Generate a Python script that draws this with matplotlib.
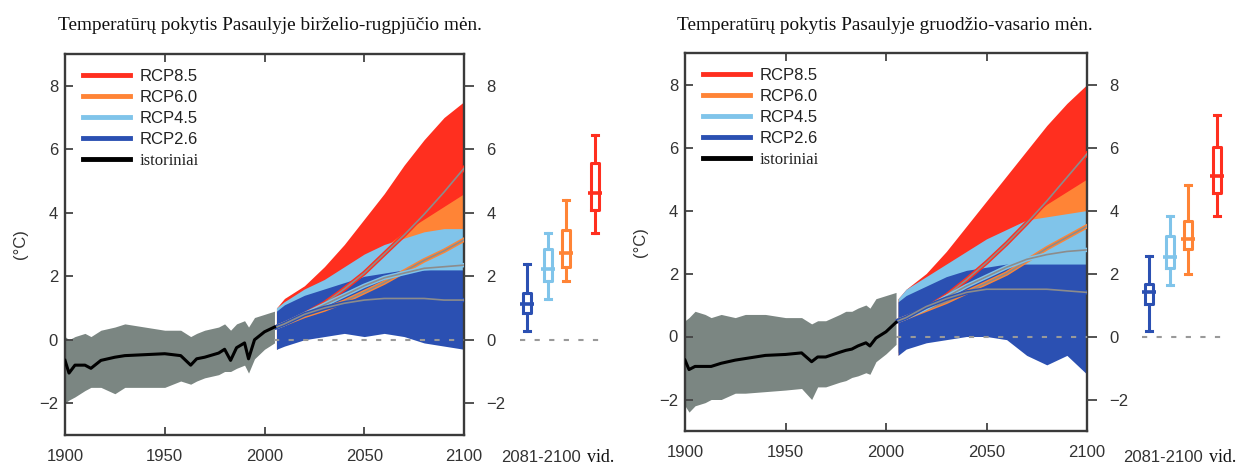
import numpy as np
import matplotlib.pyplot as plt
from matplotlib.lines import Line2D

# ---- duomenys (nuskaityti nuo paveikslo) ----
hist_years = [1900, 1902, 1905, 1910, 1913, 1918, 1925, 1930, 1940, 1950, 1958, 1963,
              1966, 1970, 1977, 1980, 1983, 1986, 1990, 1992, 1995, 2000, 2005]
jja_hist_mid = [-0.65, -1.05, -0.8, -0.8, -0.9, -0.65, -0.55, -0.5, -0.47, -0.44, -0.5, -0.8,
                -0.6, -0.55, -0.42, -0.3, -0.65, -0.25, -0.1, -0.6, 0.0, 0.25, 0.4]
jja_hist_lo = [-2.0, -1.9, -1.8, -1.6, -1.5, -1.5, -1.7, -1.5, -1.5, -1.5, -1.3, -1.4,
               -1.3, -1.2, -1.1, -1.0, -1.0, -0.9, -0.8, -1.05, -0.6, -0.3, -0.1]
jja_hist_hi = [0.1, 0.0, 0.1, 0.2, 0.1, 0.3, 0.4, 0.5, 0.4, 0.3, 0.3, 0.1,
               0.2, 0.3, 0.4, 0.5, 0.3, 0.5, 0.6, 0.4, 0.7, 0.8, 0.9]
djf_hist_mid = [-0.75, -1.05, -0.95, -0.95, -0.95, -0.85, -0.75, -0.7, -0.6, -0.57, -0.52, -0.8,
                -0.65, -0.65, -0.5, -0.44, -0.4, -0.3, -0.2, -0.3, -0.05, 0.15, 0.45]
djf_hist_lo = [-2.2, -2.4, -2.2, -2.1, -2.0, -2.0, -1.8, -1.8, -1.75, -1.7, -1.65, -2.0,
               -1.6, -1.6, -1.45, -1.4, -1.3, -1.25, -1.15, -1.2, -0.8, -0.55, -0.25]
djf_hist_hi = [0.5, 0.6, 0.8, 0.7, 0.6, 0.7, 0.6, 0.7, 0.7, 0.6, 0.6, 0.4,
               0.5, 0.5, 0.7, 0.8, 0.8, 0.9, 1.0, 0.9, 1.2, 1.3, 1.4]

proj_years = [2006, 2010, 2020, 2030, 2040, 2050, 2060, 2070, 2080, 2090, 2100]

jja_rcp85_mid = [0.4, 0.5, 0.8, 1.15, 1.6, 2.1, 2.7, 3.3, 3.95, 4.65, 5.4]
jja_rcp85_lo = [-0.3, -0.1, 0.2, 0.5, 0.8, 1.2, 1.6, 2.1, 2.6, 3.1, 3.5]
jja_rcp85_hi = [1.0, 1.3, 1.7, 2.3, 3.0, 3.8, 4.6, 5.5, 6.3, 7.0, 7.5]
jja_rcp60_mid = [0.4, 0.5, 0.75, 0.95, 1.2, 1.5, 1.8, 2.15, 2.5, 2.8, 3.15]
jja_rcp60_lo = [-0.3, -0.1, 0.1, 0.3, 0.5, 0.7, 1.0, 1.3, 1.6, 1.9, 2.0]
jja_rcp60_hi = [1.0, 1.2, 1.5, 1.8, 2.1, 2.5, 2.9, 3.4, 3.8, 4.2, 4.6]
jja_rcp45_mid = [0.4, 0.5, 0.8, 1.1, 1.4, 1.7, 1.95, 2.1, 2.25, 2.3, 2.35]
jja_rcp45_lo = [-0.3, -0.1, 0.2, 0.4, 0.6, 0.9, 1.1, 1.2, 1.3, 1.35, 1.4]
jja_rcp45_hi = [1.0, 1.2, 1.6, 1.9, 2.3, 2.7, 3.0, 3.2, 3.4, 3.5, 3.5]
jja_rcp26_mid = [0.4, 0.5, 0.8, 1.0, 1.15, 1.25, 1.3, 1.3, 1.3, 1.25, 1.25]
jja_rcp26_lo = [-0.3, -0.2, 0.0, 0.1, 0.2, 0.1, 0.2, 0.1, -0.1, -0.2, -0.3]
jja_rcp26_hi = [0.9, 1.1, 1.4, 1.6, 1.8, 2.0, 2.1, 2.2, 2.2, 2.2, 2.2]

djf_rcp85_mid = [0.5, 0.6, 0.9, 1.3, 1.8, 2.35, 2.95, 3.6, 4.3, 5.05, 5.8]
djf_rcp85_lo = [-0.5, -0.3, 0.0, 0.3, 0.7, 1.1, 1.6, 2.1, 2.7, 3.2, 3.8]
djf_rcp85_hi = [1.2, 1.5, 2.0, 2.7, 3.5, 4.3, 5.1, 5.9, 6.7, 7.4, 8.0]
djf_rcp60_mid = [0.5, 0.6, 0.85, 1.1, 1.4, 1.7, 2.0, 2.4, 2.8, 3.15, 3.5]
djf_rcp60_lo = [-0.6, -0.3, 0.0, 0.2, 0.4, 0.7, 1.0, 1.3, 1.6, 1.9, 2.0]
djf_rcp60_hi = [1.2, 1.4, 1.8, 2.1, 2.4, 2.8, 3.2, 3.7, 4.2, 4.6, 5.0]
djf_rcp45_mid = [0.5, 0.6, 0.9, 1.25, 1.6, 1.9, 2.2, 2.45, 2.6, 2.7, 2.75]
djf_rcp45_lo = [-0.5, -0.3, 0.0, 0.3, 0.5, 0.8, 1.0, 1.2, 1.4, 1.5, 1.6]
djf_rcp45_hi = [1.2, 1.5, 1.9, 2.3, 2.7, 3.1, 3.4, 3.7, 3.8, 3.9, 4.0]
djf_rcp26_mid = [0.5, 0.6, 0.95, 1.2, 1.4, 1.5, 1.5, 1.5, 1.5, 1.45, 1.4]
djf_rcp26_lo = [-0.6, -0.4, -0.2, -0.1, 0.0, 0.0, -0.1, -0.6, -0.9, -0.6, -1.2]
djf_rcp26_hi = [1.1, 1.3, 1.6, 1.9, 2.1, 2.2, 2.3, 2.3, 2.3, 2.3, 2.3]

# 2081-2100 vid. (RCP2.6, RCP4.5, RCP6.0, RCP8.5)
jja_box_lo = [0.29, 1.28, 1.84, 3.37]
jja_box_q1 = [0.84, 1.84, 2.29, 4.1]
jja_box_med = [1.13, 2.24, 2.72, 4.61]
jja_box_q3 = [1.47, 2.86, 3.45, 5.56]
jja_box_hi = [2.4, 3.35, 4.39, 6.44]
djf_box_lo = [0.19, 1.65, 1.97, 3.84]
djf_box_q1 = [1.04, 2.16, 2.77, 4.57]
djf_box_med = [1.41, 2.51, 3.1, 5.08]
djf_box_q3 = [1.68, 3.19, 3.68, 6.03]
djf_box_hi = [2.56, 3.83, 4.8, 7.03]

scenarijai = ['RCP8.5', 'RCP6.0', 'RCP4.5', 'RCP2.6']
spalvos = {'RCP8.5': '#ff2f1f', 'RCP6.0': '#ff8436', 'RCP4.5': '#80c4ea', 'RCP2.6': '#2b50b2'}
hist_spalva = '#7b8682'

W, H = 1250, 466
fig = plt.figure(figsize=(W / 100, H / 100), dpi=100)
plt.rcParams['font.family'] = ['Liberation Sans', 'DejaVu Sans']


def fx(x):
    return x / W


def fy(y):
    return 1 - y / H


def piesti(left, top, right, bottom, box_left, title, title_x, hm, hl, hh, proj, box):
    ax = fig.add_axes([fx(left), fy(bottom), fx(right - left), (bottom - top) / H])
    ax.fill_between(hist_years, hl, hh, color=hist_spalva, lw=0, zorder=1)
    # pirmiausia auksciausias scenarijus, zemesni - ant virsaus
    for sc in scenarijai:
        mid, lo, hi = proj[sc]
        ax.fill_between(proj_years, lo, hi, color=spalvos[sc], lw=0, zorder=2)
    for sc in scenarijai:
        mid, lo, hi = proj[sc]
        ax.plot(proj_years, mid, color=spalvos[sc], lw=3.2, zorder=3)
        ax.plot(proj_years, mid, color='#8c8c8c', lw=1.2, zorder=3)
    ax.plot([2005, 2100], [0, 0], color='#999999', lw=1.5, ls=(0, (2.5, 4.5)), zorder=4)
    ax.plot(hist_years, hm, color='black', lw=2.2, zorder=5)
    ax.set_xlim(1900, 2100)
    ax.set_ylim(-3, 9)
    ax.set_xticks([1900, 1950, 2000, 2050, 2100])
    ax.set_yticks([-2, 0, 2, 4, 6, 8])
    ax.tick_params(axis='both', direction='in', length=6, width=1.3, color='#444444',
                   labelsize=12, labelcolor='#333333', top=True, right=False)
    ax.tick_params(axis='x', pad=10)
    ax.tick_params(axis='y', pad=5)
    for s in ax.spines.values():
        s.set_color('#3a3a3a')
        s.set_linewidth(1.7)
    ax.set_ylabel('(°C)', fontsize=12, color='#333333', labelpad=8)

    ax2 = ax.twinx()
    ax2.set_ylim(-3, 9)
    ax2.set_yticks([-2, 0, 2, 4, 6, 8])
    ax2.tick_params(axis='y', direction='out', length=7, width=1.3, color='#444444',
                    labelsize=12, labelcolor='#333333', pad=9)
    for s in ax2.spines.values():
        s.set_visible(False)

    h = [Line2D([], [], color=spalvos[sc], lw=3.5) for sc in scenarijai]
    h.append(Line2D([], [], color='black', lw=3.5))
    leg = ax.legend(h, scenarijai + ['istoriniai'], loc='upper left',
                    bbox_to_anchor=(fx(left + 18), fy(top + 15)), bbox_transform=fig.transFigure,
                    frameon=False, fontsize=12, handlelength=2.8, handletextpad=0.6,
                    labelspacing=0.36, borderpad=0, borderaxespad=0)
    for t in leg.get_texts():
        t.set_color('#222222')
    leg.get_texts()[-1].set_family('Liberation Serif')

    # staciakampes diagramos
    axb = fig.add_axes([fx(box_left), fy(bottom), fx(110), (bottom - top) / H])
    axb.set_xlim(0, 1)
    axb.set_ylim(-3, 9)
    axb.axis('off')
    lo, q1, med, q3, hi = box
    poz = [0.2, 0.39, 0.555, 0.818]
    box_sc = ['RCP2.6', 'RCP4.5', 'RCP6.0', 'RCP8.5']
    stats = [dict(whislo=lo[i], q1=q1[i], med=med[i], q3=q3[i], whishi=hi[i]) for i in range(4)]
    bp = axb.bxp(stats, positions=poz, widths=0.075, showfliers=False, capwidths=0.05,
                 boxprops=dict(lw=2.2), whiskerprops=dict(lw=2.2), capprops=dict(lw=2.2),
                 medianprops=dict(lw=0), manage_ticks=False)
    for i, sc in enumerate(box_sc):
        c = spalvos[sc]
        bp['boxes'][i].set_color(c)
        for k in (2 * i, 2 * i + 1):
            bp['whiskers'][k].set_color(c)
            bp['caps'][k].set_color(c)
        axb.plot(poz[i], med[i], marker='_', ms=10, mew=2.6, color=c)
    axb.plot([0.136, 0.864], [0, 0], color='#999999', lw=1.5, ls=(0, (2.5, 4.5)))

    fig.text(fx(title_x), fy(25), title, family='Liberation Serif', fontsize=13.9,
             ha='center', va='center', color='#111111')
    fig.text(fx(box_left + 36), fy(457), '2081-2100', fontsize=12, color='#333333',
             ha='center', va='center')
    fig.text(fx(box_left + 96), fy(457), 'vid.', family='Liberation Serif', fontsize=13,
             color='#111111', ha='center', va='center')
    return ax


piesti(65, 54, 464, 435, 505, 'Temperatūrų pokytis Pasaulyje birželio-rugpjūčio mėn.', 270,
       jja_hist_mid, jja_hist_lo, jja_hist_hi,
       {'RCP8.5': (jja_rcp85_mid, jja_rcp85_lo, jja_rcp85_hi),
        'RCP6.0': (jja_rcp60_mid, jja_rcp60_lo, jja_rcp60_hi),
        'RCP4.5': (jja_rcp45_mid, jja_rcp45_lo, jja_rcp45_hi),
        'RCP2.6': (jja_rcp26_mid, jja_rcp26_lo, jja_rcp26_hi)},
       (jja_box_lo, jja_box_q1, jja_box_med, jja_box_q3, jja_box_hi))

piesti(685, 53, 1087, 431, 1127, 'Temperatūrų pokytis Pasaulyje gruodžio-vasario mėn.', 885,
       djf_hist_mid, djf_hist_lo, djf_hist_hi,
       {'RCP8.5': (djf_rcp85_mid, djf_rcp85_lo, djf_rcp85_hi),
        'RCP6.0': (djf_rcp60_mid, djf_rcp60_lo, djf_rcp60_hi),
        'RCP4.5': (djf_rcp45_mid, djf_rcp45_lo, djf_rcp45_hi),
        'RCP2.6': (djf_rcp26_mid, djf_rcp26_lo, djf_rcp26_hi)},
       (djf_box_lo, djf_box_q1, djf_box_med, djf_box_q3, djf_box_hi))

fig.savefig('out.png', dpi=100)
